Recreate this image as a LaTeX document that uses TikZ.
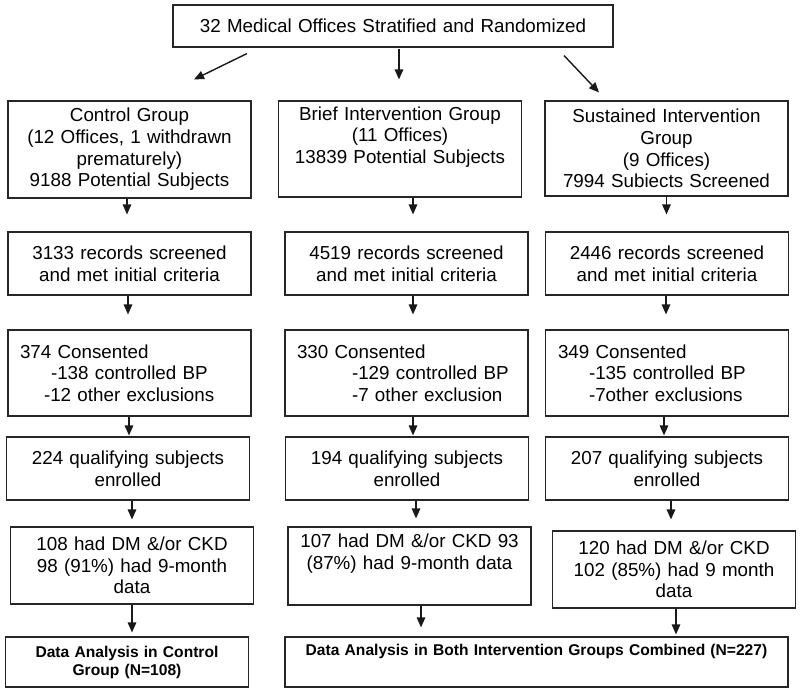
\documentclass[tikz,border=0pt]{standalone}
\usepackage{fontspec}
\setmainfont{Liberation Sans}
\usetikzlibrary{arrows.meta}

\tikzset{
  box/.style={draw=black!85, line width=1.1pt, minimum width=243pt, text width=219pt,
    inner xsep=12pt, inner ysep=0pt, align=center, font=\fontsize{18.8}{21.6}\selectfont},
  endbox/.style={box, font=\fontsize{15.6}{18}\selectfont\bfseries},
  arr/.style={-{Triangle[length=10pt,width=8.5pt]}, line width=1.4pt, black!90},
}

\begin{document}
\begin{tikzpicture}[x=1pt,y=-1pt]
		\useasboundingbox (0,0) rectangle (800,692);
		% Kopf
		\node[box, minimum width=440pt, text width=416pt, minimum height=42pt] (top) at (393,26) {32 Medical Offices Stratified and Randomized};
		% Gruppen
		\node[box, minimum height=97pt] (ctrl) at (129.5,149.5) {Control Group\\(12 Offices, 1 withdrawn\\prematurely)\\9188 Potential Subjects};
		\node[box, minimum height=96pt] (brief) at (400,149) {Brief Intervention Group\\(11 Offices)\\13839 Potential Subjects\\\strut};
		\node[box, minimum height=95pt, text width=217pt] (sust) at (666.5,148.5) {Sustained Intervention\\Group\\(9 Offices)\\7994 Subiects Screened};
		% Screening
		\node[box, minimum height=63pt] (ctrlrec) at (129.5,263.5) {3133 records screened\\and met initial criteria};
		\node[box, minimum height=63pt] (briefrec) at (406.5,263.5) {4519 records screened\\and met initial criteria};
		\node[box, minimum height=63pt, text width=218pt] (sustrec) at (667,263.5) {2446 records screened\\and met initial criteria};
		% Einwilligung
		\node[box, align=left, minimum height=86pt] (ctrlcons) at (129.5,373) {374 Consented\\\hspace*{31pt}-138 controlled BP\\\hspace*{24pt}-12 other exclusions};
		\node[box, align=left, minimum height=86pt] (briefcons) at (406.5,373) {330 Consented\\\hspace*{55pt}-129 controlled BP\\\hspace*{55pt}-7 other exclusion};
		\node[box, align=left, minimum height=86pt, text width=218pt] (sustcons) at (667,373) {349 Consented\\\hspace*{31pt}-135 controlled BP\\\hspace*{31pt}-7other exclusions};
		% Eingeschlossen
		\node[box, minimum height=63pt, text width=218pt] (ctrlenr) at (128,468.5) {224 qualifying subjects\\enrolled};
		\node[box, minimum height=63pt, text width=218pt] (briefenr) at (407,468.5) {194 qualifying subjects\\enrolled};
		\node[box, minimum height=63pt, text width=218pt] (sustenr) at (667,468.5) {207 qualifying subjects\\enrolled};
		% DM / CKD
		\node[box, minimum height=77pt, text width=218pt] (ctrldm) at (132,565.5) {108 had DM \&/or CKD\\98 (91\%) had 9-month\\data};
		\node[box, minimum height=78pt] (briefdm) at (409.5,566) {107 had DM \&/or CKD 93\\(87\%) had 9-month data\\\strut};
		\node[box, minimum height=77pt, text width=218pt] (sustdm) at (674,569.5) {120 had DM \&/or CKD\\102 (85\%) had 9 month\\data};
		% Auswertung
		\node[endbox, minimum height=50pt, text width=216pt] (ctrlana) at (127,662) {Data Analysis in Control\\Group (N=108)};
		\node[endbox, minimum height=50pt, text width=479pt] (intana) at (536.5,662) {Data Analysis in Both Intervention Groups Combined (N=227)\\\strut};
		% Pfeile oben
		\draw[arr] ([xshift=-146pt,yshift=-6pt]top.south) -- ([xshift=64.5pt,yshift=21pt]ctrl.north);
		\draw[arr] ([xshift=6pt,yshift=-1pt]top.south) -- ([xshift=-1pt,yshift=21pt]brief.north);
		\draw[arr] ([xshift=171pt,yshift=-8pt]top.south) -- ([xshift=-67.5pt,yshift=8pt]sust.north);
		% Pfeile links
		\draw[arr, shorten >=17pt] ([xshift=-2.5pt]ctrl.south) -- ([xshift=-2.5pt]ctrl.south |- ctrlrec.north);
		\draw[arr, shorten >=15pt] ([xshift=-1.5pt]ctrlrec.south) -- ([xshift=-1.5pt]ctrlrec.south |- ctrlcons.north);
		\draw[arr, shorten >=1pt] ([xshift=-0.5pt]ctrlcons.south) -- ([xshift=-0.5pt]ctrlcons.south |- ctrlenr.north);
		\draw[arr, shorten >=7pt] ([xshift=4pt]ctrlenr.south) -- ([xshift=4pt]ctrlenr.south |- ctrldm.north);
		\draw[arr, shorten >=4pt] (ctrldm.south) -- (ctrldm.south |- ctrlana.north);
		% Pfeile Mitte
		\draw[arr, shorten >=17pt] ([xshift=13pt]brief.south) -- ([xshift=13pt]brief.south |- briefrec.north);
		\draw[arr, shorten >=15pt] ([xshift=6.5pt]briefrec.south) -- ([xshift=6.5pt]briefrec.south |- briefcons.north);
		\draw[arr, shorten >=1pt] ([xshift=6.5pt]briefcons.south) -- ([xshift=6.5pt]briefcons.south |- briefenr.north);
		\draw[arr, shorten >=8pt] ([xshift=9pt]briefenr.south) -- ([xshift=9pt]briefenr.south |- briefdm.north);
		\draw[arr, shorten >=9pt] ([xshift=11.5pt]briefdm.south) -- ([xshift=11.5pt]briefdm.south |- intana.north);
		% Pfeile rechts
		\draw[arr, shorten >=17pt] (sust.south) -- (sust.south |- sustrec.north);
		\draw[arr, shorten >=15pt] ([xshift=-1pt]sustrec.south) -- ([xshift=-1pt]sustrec.south |- sustcons.north);
		\draw[arr, shorten >=1pt] ([xshift=-3pt]sustcons.south) -- ([xshift=-3pt]sustcons.south |- sustenr.north);
		\draw[arr, shorten >=11pt] ([xshift=4pt]sustenr.south) -- ([xshift=4pt]sustenr.south |- sustdm.north);
		\draw[arr, shorten >=2pt] ([xshift=2pt]sustdm.south) -- ([xshift=2pt]sustdm.south |- intana.north);
	\end{tikzpicture}
\end{document}
